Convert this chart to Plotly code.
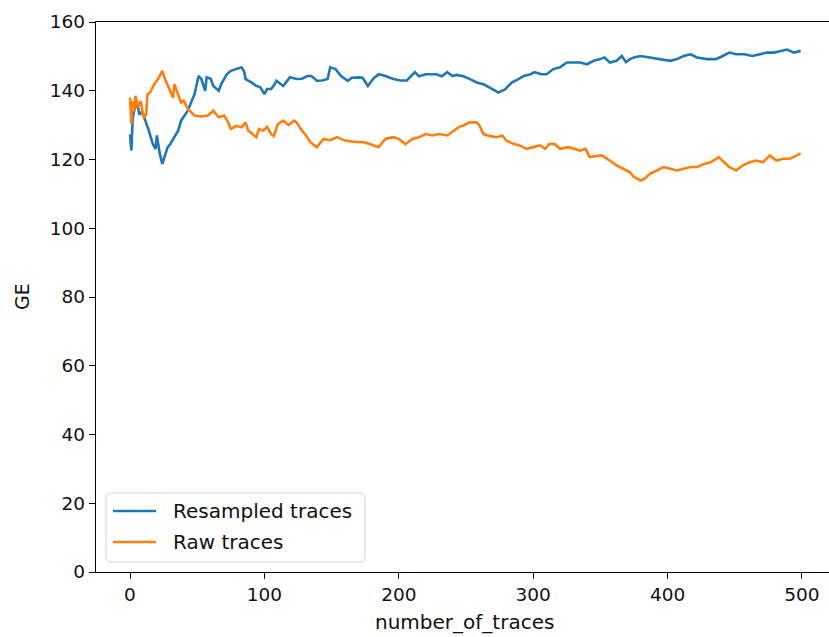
import plotly.graph_objects as go

# Resampled traces (blue)
resampled_x = [0, 1, 2, 3, 5, 7, 9, 11, 14, 17, 19, 20, 22, 24, 26, 28, 30, 33, 36, 38, 43, 48, 51, 53, 56, 57, 60, 62, 66, 68, 72, 75, 79, 83, 85, 86, 90, 94, 97, 100, 102, 105, 107, 109, 114, 119, 124, 128, 132, 135, 139, 143, 147, 149, 153, 157, 162, 165, 170, 173, 177, 181, 185, 190, 196, 201, 206, 212, 215, 220, 228, 232, 236, 240, 243, 248, 253, 258, 263, 268, 274, 279, 284, 289, 293, 298, 301, 306, 310, 315, 320, 325, 330, 335, 340, 345, 350, 353, 357, 362, 366, 369, 372, 375, 380, 387, 394, 402, 407, 412, 417, 422, 429, 436, 441, 446, 451, 457, 463, 468, 474, 479, 484, 489, 494, 499]
resampled_y = [127.4, 122.6, 131.8, 134.0, 137.0, 133.0, 134.0, 131.8, 128.4, 124.5, 123.1, 127.0, 122.0, 118.7, 121.5, 123.5, 124.5, 126.5, 128.5, 131.3, 134.2, 139.0, 144.3, 143.5, 140.0, 143.9, 143.5, 141.4, 140.0, 142.0, 144.8, 145.8, 146.3, 146.8, 145.5, 143.4, 142.5, 141.4, 141.0, 139.0, 140.5, 140.5, 141.5, 142.9, 141.4, 143.9, 143.4, 143.5, 144.3, 144.3, 142.9, 143.0, 143.4, 146.8, 146.3, 144.3, 142.9, 143.8, 143.9, 143.8, 141.4, 143.5, 144.8, 144.3, 143.4, 143.0, 143.0, 145.4, 144.2, 144.8, 144.8, 144.2, 145.4, 144.3, 144.6, 144.2, 143.4, 142.4, 141.9, 140.9, 139.5, 140.4, 142.4, 143.4, 144.3, 144.8, 145.4, 144.8, 144.8, 146.3, 146.8, 148.2, 148.2, 148.2, 147.7, 148.7, 149.2, 149.7, 148.2, 148.7, 150.1, 148.3, 149.2, 149.7, 150.1, 149.7, 149.2, 148.7, 149.2, 150.1, 150.6, 149.7, 149.2, 149.2, 150.1, 151.1, 150.6, 150.6, 150.1, 150.6, 151.1, 151.1, 151.6, 152.0, 151.1, 151.6]

# Raw traces (orange)
raw_x = [0, 1, 2, 3, 4, 6, 8, 10, 12, 13, 15, 18, 21, 23, 24, 26, 29, 32, 33, 35, 38, 40, 43, 48, 53, 58, 62, 66, 70, 73, 75, 79, 83, 86, 88, 94, 96, 99, 102, 105, 107, 110, 114, 118, 122, 124, 127, 131, 134, 139, 144, 149, 154, 160, 168, 173, 178, 185, 190, 196, 200, 205, 210, 215, 220, 225, 230, 236, 241, 245, 248, 253, 258, 260, 263, 268, 273, 277, 280, 285, 290, 295, 300, 305, 309, 312, 316, 320, 326, 330, 335, 339, 342, 347, 351, 357, 362, 367, 372, 375, 380, 383, 387, 392, 397, 402, 407, 412, 417, 422, 427, 432, 438, 442, 446, 451, 456, 461, 466, 471, 476, 481, 486, 491, 496, 499]
raw_y = [138.0, 130.4, 137.0, 134.0, 138.5, 135.2, 137.0, 132.3, 133.0, 139.0, 139.5, 141.9, 143.5, 144.8, 145.8, 143.5, 141.0, 138.0, 141.9, 140.0, 136.6, 137.1, 134.7, 132.8, 132.5, 132.8, 134.2, 132.3, 132.8, 130.8, 128.9, 129.8, 129.4, 130.8, 128.4, 126.5, 128.9, 128.4, 129.5, 127.4, 126.8, 130.3, 131.3, 130.0, 131.3, 130.8, 128.9, 127.0, 125.1, 123.6, 126.0, 125.6, 126.5, 125.5, 125.1, 125.1, 124.6, 123.6, 126.0, 126.5, 126.0, 124.5, 126.0, 126.5, 127.4, 127.0, 127.4, 127.0, 128.5, 129.5, 129.9, 130.8, 130.8, 129.9, 127.4, 126.8, 126.5, 127.0, 125.5, 124.6, 124.1, 123.1, 123.6, 124.1, 123.1, 124.5, 124.5, 123.1, 123.6, 123.1, 122.6, 123.1, 120.7, 121.0, 121.2, 119.7, 118.3, 117.3, 116.3, 114.9, 113.9, 114.4, 115.9, 116.8, 117.8, 117.3, 116.8, 117.3, 117.8, 117.8, 118.7, 119.2, 120.7, 119.2, 117.8, 116.8, 118.3, 119.2, 119.7, 119.2, 121.2, 119.7, 120.2, 120.2, 121.2, 121.8]

series_names = ["Resampled traces", "Raw traces"]
series_colors = ["#1f77b4", "#ff7f0e"]

x_ticks = [0, 100, 200, 300, 400, 500]
y_ticks = [0, 20, 40, 60, 80, 100, 120, 140, 160]

FONT = "DejaVu Sans"
W, H = 829, 637
ML, MR, MT, MB = 96, 0, 22, 65
PW, PH = W - ML - MR, H - MT - MB


def px(xp):
    return (xp - ML) / PW


def py(yp):
    return (H - MB - yp) / PH


fig = go.Figure()
for xs, ys, name, color in [(resampled_x, resampled_y, series_names[0], series_colors[0]),
                            (raw_x, raw_y, series_names[1], series_colors[1])]:
    fig.add_trace(go.Scatter(x=xs, y=ys, mode="lines", name=name, showlegend=False,
                             line=dict(color=color, width=2.6)))

axis_common = dict(showgrid=False, zeroline=False, showline=True, linecolor="black", linewidth=1.4,
                   ticks="outside", ticklen=6, tickwidth=1.4, tickcolor="black",
                   tickfont=dict(family=FONT, size=18.5, color="#111"))

# legend drawn manually (rounded box, line samples, labels)
bx0, bx1, by0, by1, r = 106, 365, 493, 562, 5
rx, ry = r / PW, r / PH
X0, X1, Y0, Y1 = px(bx0), px(bx1), py(by1), py(by0)
path = (f"M {X0+rx},{Y0} L {X1-rx},{Y0} Q {X1},{Y0} {X1},{Y0+ry} L {X1},{Y1-ry} "
        f"Q {X1},{Y1} {X1-rx},{Y1} L {X0+rx},{Y1} Q {X0},{Y1} {X0},{Y1-ry} "
        f"L {X0},{Y0+ry} Q {X0},{Y0} {X0+rx},{Y0} Z")
shapes = [dict(type="path", xref="paper", yref="paper", path=path,
               fillcolor="rgba(255,255,255,0.8)", line=dict(color="#d4d4d4", width=1))]
annotations = []
row_y = [511, 542]
for i, (name, color) in enumerate(zip(series_names, series_colors)):
    shapes.append(dict(type="line", xref="paper", yref="paper",
                       x0=px(113), x1=px(156), y0=py(row_y[i]), y1=py(row_y[i]),
                       line=dict(color=color, width=2.6)))
    annotations.append(dict(text=name, xref="paper", yref="paper", x=px(171), y=py(row_y[i]),
                            xanchor="left", yanchor="middle", showarrow=False,
                            font=dict(family=FONT, size=20, color="#111")))

annotations += [
    dict(text="number_of_traces", xref="paper", yref="paper", x=px(464),
         y=py(622), xanchor="center", yanchor="middle", showarrow=False,
         font=dict(family=FONT, size=20, color="#111")),
    dict(text="GE", xref="paper", yref="paper", x=px(22), y=0.5, textangle=-90,
         xanchor="center", yanchor="middle", showarrow=False,
         font=dict(family=FONT, size=19, color="#111")),
]

fig.update_layout(
    width=W, height=H,
    margin=dict(l=ML, r=MR, t=MT, b=MB),
    paper_bgcolor="white", plot_bgcolor="white",
    font=dict(family=FONT, size=20, color="#111"),
    xaxis=dict(range=[-25.3, 520.1], tickvals=x_ticks, mirror=True, **axis_common),
    yaxis=dict(range=[0, 160], tickvals=y_ticks, mirror=False, **axis_common),
    showlegend=False,
    shapes=shapes,
    annotations=annotations,
)

fig.write_html("out.html")
